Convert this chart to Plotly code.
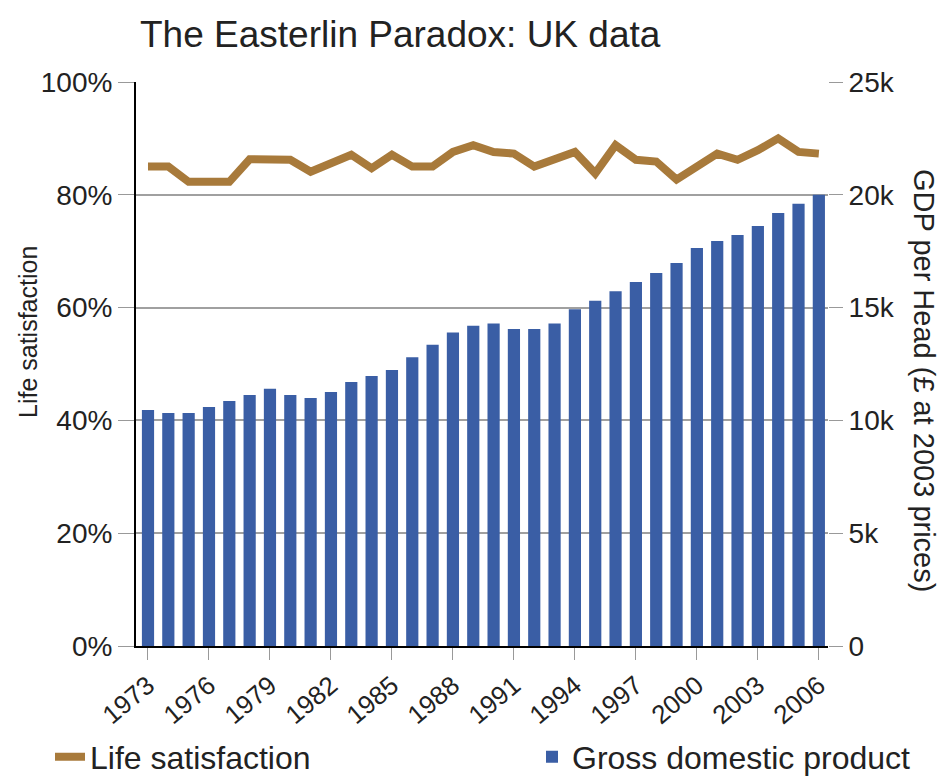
import plotly.graph_objects as go

years = list(range(1973, 2007))
gdp_per_head = [10460, 10330, 10330, 10590, 10860, 11130, 11400, 11130, 10990, 11260,
                11700, 11970, 12230, 12800, 13350, 13900, 14200, 14300, 14050, 14050,
                14300, 14930, 15300, 15730, 16130, 16530, 16980, 17640, 17950, 18220,
                18620, 19190, 19600, 20000]
life_satisfaction = [85.0, 85.0, 82.3, 82.3, 82.3, 86.3, 86.3, 86.2, 84.1, 85.7,
                     87.1, 84.7, 87.1, 85.0, 85.0, 87.6, 88.8, 87.6, 87.3, 85.0,
                     86.2, 87.6, 83.8, 88.8, 86.2, 85.9, 82.7, 85.0, 87.3, 86.2,
                     87.9, 90.0, 87.6, 87.3]
tick_years = list(range(1973, 2007, 3))
left_ticks = [0, 20, 40, 60, 80, 100]
right_ticks = [0, 5000, 10000, 15000, 20000, 25000]
right_labels = ["0", "5k", "10k", "15k", "20k", "25k"]

FONT = "Liberation Sans, Arial, sans-serif"
BAR_COLOR = "#3a5ea5"
LINE_COLOR = "#a87a3b"

fig = go.Figure()
fig.add_trace(go.Bar(
    x=years, y=gdp_per_head, name="Gross domestic product",
    marker=dict(color=BAR_COLOR, line=dict(width=0)), width=0.6,
    yaxis="y2", legend="legend2",
))
fig.add_trace(go.Scatter(
    x=years, y=life_satisfaction, name="Life satisfaction", mode="lines",
    line=dict(color=LINE_COLOR, width=8),
    yaxis="y", legend="legend",
))

legend_common = dict(orientation="h", xref="container", yref="container",
                     xanchor="left", y=1 - 757 / 778, yanchor="middle",
                     font=dict(size=32, color="#222222"), bgcolor="rgba(0,0,0,0)")

fig.update_layout(
    width=944, height=778,
    margin=dict(l=136, r=116, t=82, b=132, autoexpand=False),
    paper_bgcolor="white", plot_bgcolor="white",
    font=dict(family=FONT, color="#222222"),
    title=dict(text="The Easterlin Paradox: UK data", font=dict(size=37, color="#222222"),
               xref="container", yref="container", x=140 / 944, xanchor="left",
               y=1 - 34 / 778, yanchor="middle"),
    showlegend=True,
    legend=dict(x=50 / 944, **legend_common),
    legend2=dict(x=532 / 944, **legend_common),
    bargap=0.4,
    xaxis=dict(
        range=[1972.41, 2006.45], tickvals=tick_years, ticktext=[str(y) for y in tick_years],
        tickangle=-40, tickfont=dict(size=26, color="#222222"),
        ticks="outside", ticklen=12, tickcolor="#999999",
        showline=True, linecolor="black", linewidth=2, showgrid=False, zeroline=False,
    ),
    yaxis=dict(
        range=[0, 100], tickvals=left_ticks, ticktext=[f"{v}%" for v in left_ticks],
        tickfont=dict(size=28, color="#222222"),
        ticks="outside", ticklen=16, tickcolor="#999999",
        showline=True, linecolor="black", linewidth=2,
        showgrid=True, gridcolor="#a0a0a0", gridwidth=1.5, zeroline=False,
    ),
    yaxis2=dict(
        range=[0, 25000], tickvals=right_ticks, ticktext=right_labels,
        overlaying="y", side="right",
        tickfont=dict(size=28, color="#222222"),
        ticks="outside", ticklen=14, tickcolor="#999999",
        showline=False, showgrid=False, zeroline=False,
    ),
    annotations=[
        dict(text="Life satisfaction", xref="paper", yref="paper",
             x=-108 / 692, y=(646 - 332) / 564, xanchor="center", yanchor="middle",
             textangle=-90, showarrow=False, font=dict(size=25, color="#222222")),
        dict(text="GDP per Head (£ at 2003 prices)", xref="paper", yref="paper",
             x=1 + 96 / 692, y=(646 - 380) / 564, xanchor="center", yanchor="middle",
             textangle=90, showarrow=False, font=dict(size=29, color="#222222")),
    ],
)

fig.write_html("out.html")
